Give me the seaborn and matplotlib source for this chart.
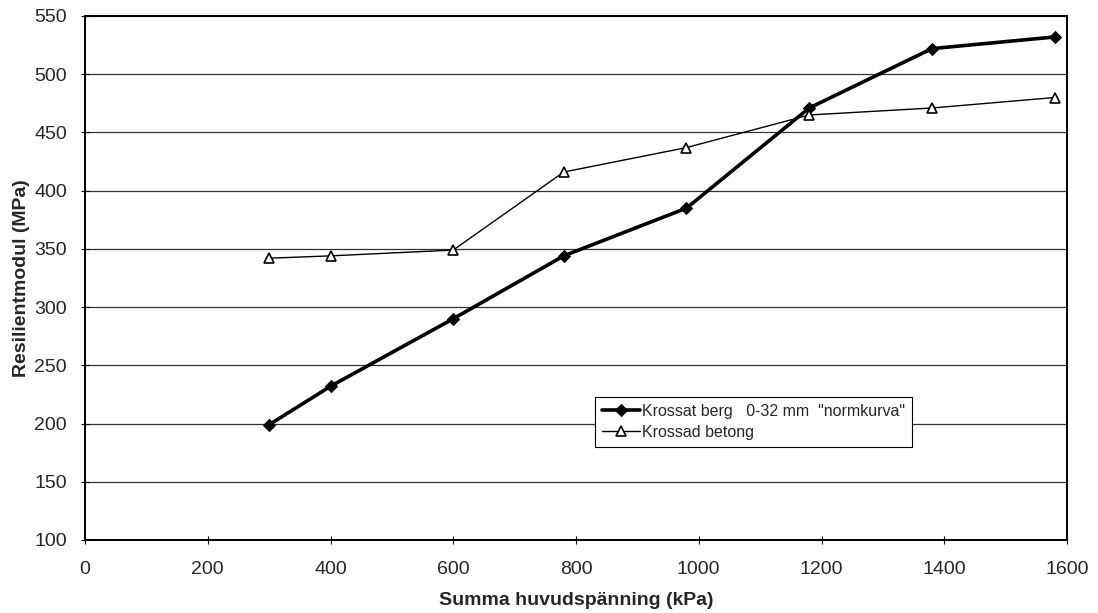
import pandas as pd
import matplotlib.pyplot as plt
import seaborn as sns

# data
tryck = [300, 400, 600, 780, 980, 1180, 1380, 1580]
berg = [199, 232, 290, 344, 385, 471, 522, 532]
betong = [342, 344, 349, 416, 437, 465, 471, 480]

label_berg = 'Krossat berg   0-32 mm  "normkurva"'
label_betong = "Krossad betong"

df = pd.DataFrame({"tryck": tryck, "berg": berg, "betong": betong})

sns.set_style("white")
plt.rcParams["font.family"] = ["Liberation Sans", "DejaVu Sans"]

fig = plt.figure(figsize=(10.98, 6.13), dpi=100)
ax = fig.add_axes([85 / 1098, 1 - 540 / 613, (1067 - 85) / 1098, (540 - 16) / 613])

sns.lineplot(data=df, x="tryck", y="berg", ax=ax, color="black", linewidth=2.6,
             marker="D", markersize=6, markerfacecolor="black",
             markeredgecolor="black", label=label_berg)
sns.lineplot(data=df, x="tryck", y="betong", ax=ax, color="black", linewidth=1.0,
             marker="^", markersize=7, markerfacecolor="white",
             markeredgecolor="black", markeredgewidth=1.2, label=label_betong)

ax.set_xlim(0, 1600)
ax.set_ylim(100, 550)
ax.set_xticks(range(0, 1601, 200))
ax.set_yticks(range(100, 551, 50))
ax.yaxis.grid(True, color="#333333", linewidth=0.9)
ax.xaxis.grid(False)
ax.set_axisbelow(True)

ax.set_xlabel("Summa huvudspänning (kPa)", fontsize=14, fontweight="bold", labelpad=10)
ax.set_ylabel("Resilientmodul (MPa)", fontsize=14, fontweight="bold", labelpad=3)
ax.tick_params(axis="both", labelsize=14, direction="inout", length=6, width=0.8,
               bottom=True, left=True, color="black")
ax.tick_params(axis="x", pad=12)
ax.tick_params(axis="y", pad=10)

for spine in ax.spines.values():
    spine.set_color("black")
    spine.set_linewidth(1.4)

leg = ax.legend(loc="lower left", bbox_to_anchor=(0.519, 0.178), fontsize=11.5,
                frameon=True, fancybox=False, framealpha=1, edgecolor="black",
                borderpad=0.45, borderaxespad=0, handlelength=2.4,
                handletextpad=0.1, labelspacing=0.35)
leg.get_frame().set_linewidth(0.8)

fig.savefig("out.png", dpi=100)
